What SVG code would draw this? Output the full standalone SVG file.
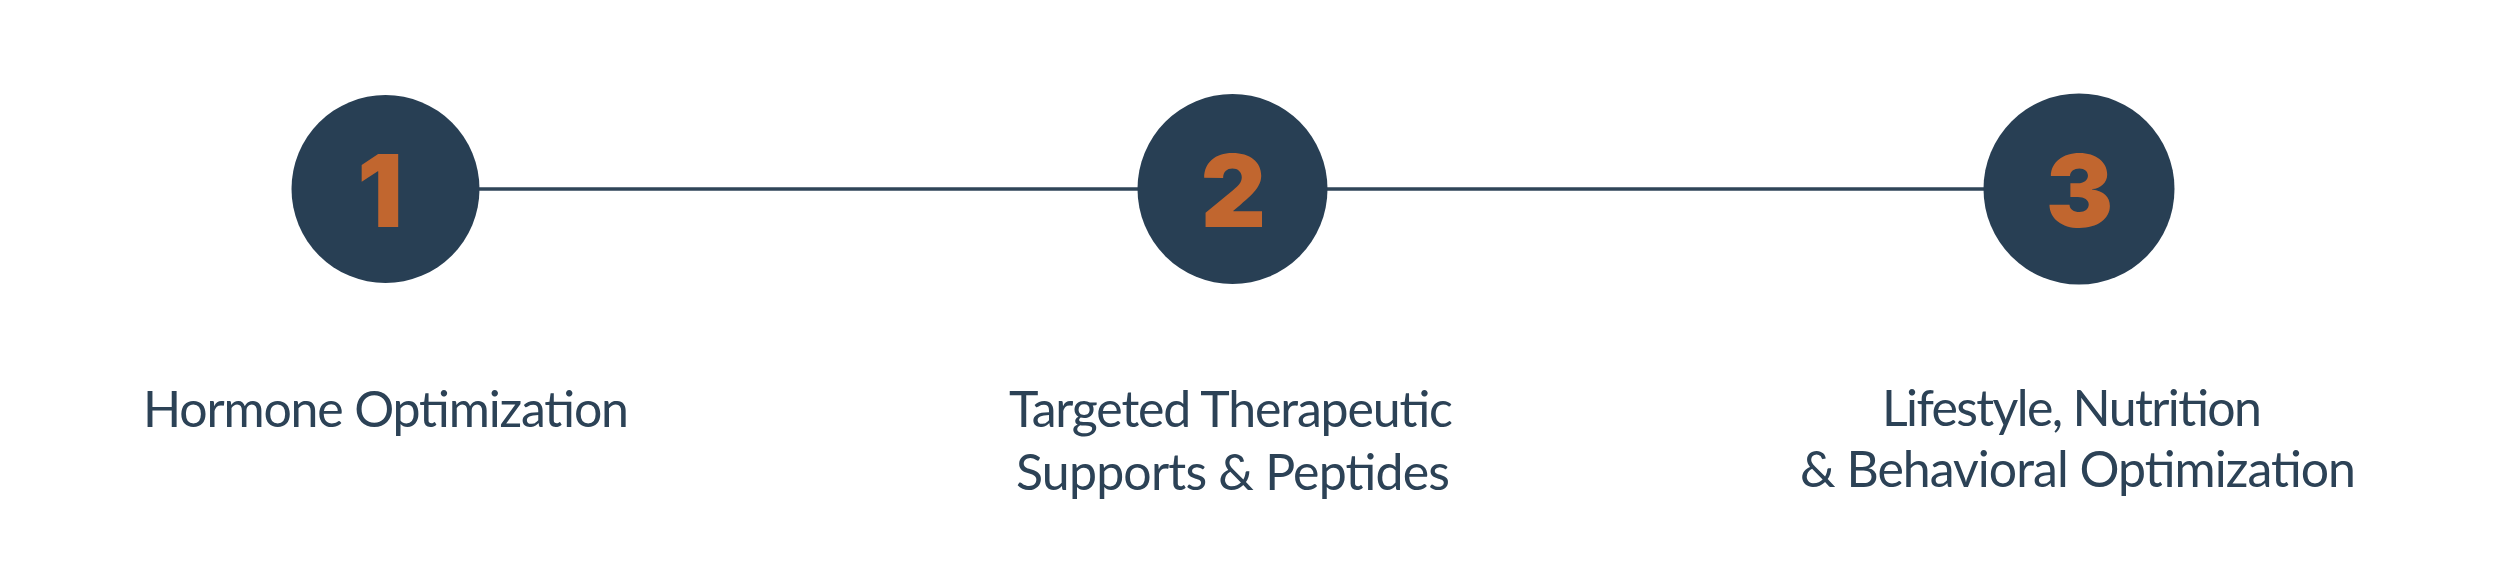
<svg xmlns="http://www.w3.org/2000/svg" width="2500" height="577" viewBox="0 0 2500 577">
<style>
.bg{fill:#ffffff}
.circle{fill:#283f54}
.num{fill:#c1662f;font-family:Inter,"Liberation Sans",sans-serif;font-weight:900;font-size:101px;text-anchor:middle}
.label{fill:#2c4256;font-family:Lato,"Liberation Sans",sans-serif;font-weight:400;font-size:50px;text-anchor:middle}
.conn{stroke:#2f4558;stroke-width:3.5;fill:none}
</style>
<rect class="bg" x="0" y="0" width="2500" height="577"/>
<g id="connectors">
<line class="conn" x1="479" y1="189" x2="1138" y2="189"/>
<line class="conn" x1="1327" y1="189" x2="1984" y2="189"/>
</g>
<g id="node1">
<circle class="circle" cx="385.5" cy="189" r="94"/>
<text class="num" x="380" y="227">1</text>
<text class="label" x="386" y="427" textLength="486">Hormone Optimization</text>
</g>
<g id="node2">
<circle class="circle" cx="1232.5" cy="189" r="95"/>
<text class="num" x="1233.5" y="227">2</text>
<text class="label" x="1231" y="427" textLength="444">Targeted Therapeutic</text>
<text class="label" x="1233" y="490" textLength="434">Supports &amp; Peptides</text>
</g>
<g id="node3">
<circle class="circle" cx="2079" cy="189" r="95.5"/>
<text class="num" x="2079.5" y="227">3</text>
<text class="label" x="2072" y="426" textLength="380">Lifestyle, Nutrition</text>
<text class="label" x="2078" y="487" textLength="556">&amp; Behavioral Optimization</text>
</g>
</svg>
